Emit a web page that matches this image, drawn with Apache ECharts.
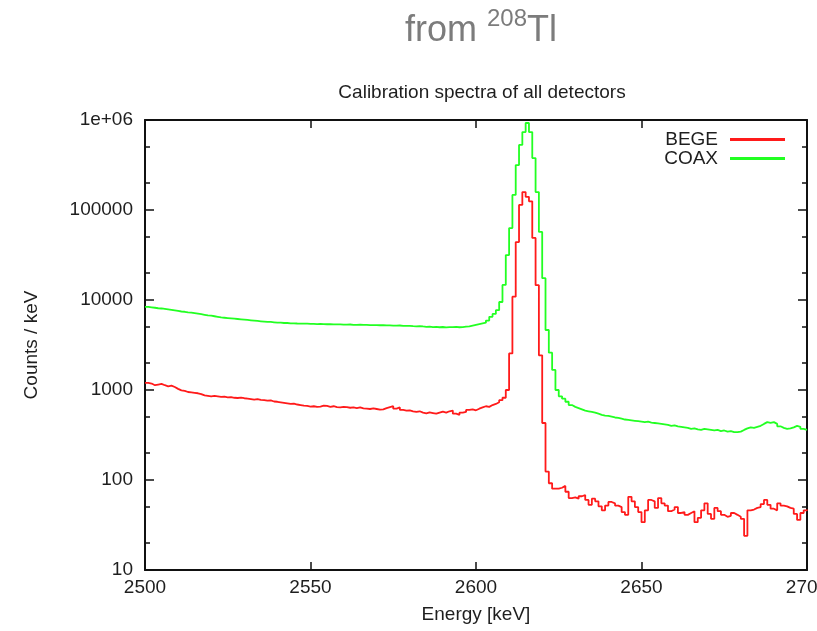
<!DOCTYPE html>
<html>
<head>
<meta charset="utf-8">
<script src="https://cdn.jsdelivr.net/npm/echarts@6/dist/echarts.min.js"></script>
<style>
html,body{margin:0;padding:0;background:#fff;}
#chart{width:817px;height:631px;}
</style>
</head>
<body>
<div id="chart"></div>
<script>
// Spectrum binning (keV)
const E0 = 2500;
const BIN = 1;

// BEGE counts / keV, bins 2500..2700
const begeCounts = [
  1200,1180,1130,1150,1170,1130,1100,1120,1080,1030,
  990,980,950,940,930,920,900,870,860,850,
  860,850,840,845,830,835,820,815,825,810,
  800,790,780,790,775,770,760,765,745,740,
  730,720,710,700,705,690,680,670,665,655,
  660,650,655,670,665,650,660,645,640,650,
  645,635,640,630,640,625,620,615,625,615,
  605,610,630,645,660,620,640,600,590,595,
  580,570,580,560,550,565,555,545,560,575,
  560,580,590,545,530,560,570,600,610,595,
  620,640,660,650,680,700,730,770,820,1000,
  2550,10900,44000,114000,158000,140000,125000,49000,14600,2430,
  430,124,92,80,80,82,86,74,63,64,
  62,66,68,60,53,62,58,51,46,52,
  57,55,52,50,44,41,65,58,50,44,
  34,46,60,58,49,63,55,52,45,47,
  50,43,44,41,43,45,34,38,46,55,
  42,37,49,45,41,39,40,43,41,39,
  37,24,46,47,49,50,54,60,53,48,
  46,55,52,51,49,48,42,36,43,46,
  47
];

// COAX counts / keV, bins 2500..2700
const coaxCounts = [
  8400,8300,8200,8100,8050,7950,7850,7750,7650,7550,
  7450,7400,7300,7250,7150,7050,6950,6850,6750,6700,
  6600,6500,6400,6350,6300,6250,6200,6150,6100,6050,
  6000,5950,5900,5850,5800,5750,5700,5700,5650,5600,
  5600,5550,5550,5500,5500,5480,5470,5450,5460,5430,
  5420,5400,5420,5390,5380,5400,5370,5350,5360,5330,
  5320,5340,5300,5290,5310,5280,5300,5260,5270,5250,
  5240,5260,5220,5230,5200,5180,5210,5170,5150,5160,
  5120,5100,5130,5080,5040,5060,5000,5020,4980,5010,
  4970,5000,4990,5020,4980,5000,5050,5100,5200,5300,
  5400,5500,5600,5900,6500,7000,7700,9500,14700,31600,
  63000,147000,316000,528000,735000,926000,735000,378000,158000,57000,
  17500,4640,2600,1670,1000,850,800,740,680,650,
  630,610,590,580,570,560,545,530,520,515,
  505,495,490,480,470,465,460,455,450,445,
  440,445,435,430,425,420,415,410,400,405,
  395,390,385,380,370,375,365,360,370,365,
  360,355,360,350,355,345,350,340,340,345,
  360,375,385,380,390,400,420,440,430,440,
  420,395,380,370,375,385,400,390,370,360,
  360
];

const seriesNames = ['BEGE', 'COAX'];
const xTicks = [2500, 2550, 2600, 2650, 2700];
const yMajor = [10, 100, 1000, 10000, 100000, 1000000];
const yMinor = [20, 50, 200, 500, 2000, 5000, 20000, 50000, 200000, 500000];

const toPairs = arr => arr.map((v, i) => [E0 + i * BIN, v]);

const FONT = 'Liberation Sans';
const FS = 19;
const TXT = '#1e1e1e';
const LINE = '#111';

function yAxisDef(pos, major, labels) {
  return {
    type: 'log', logBase: 10, min: 10, max: 1000000, position: pos,
    axisLine: { show: major, lineStyle: { color: LINE, width: 2 } },
    axisTick: { show: true, inside: true, length: major ? 9 : 5,
      customValues: major ? yMajor : yMinor, lineStyle: { color: LINE, width: 1.5 } },
    axisLabel: labels ? {
      show: true, customValues: yMajor, fontFamily: FONT, fontSize: FS, color: TXT, margin: 12,
      formatter: v => { const r = Math.round(v); return r >= 1000000 ? '1e+06' : String(r); }
    } : { show: false },
    splitLine: { show: false }, minorTick: { show: false }
  };
}

const chart = echarts.init(document.getElementById('chart'), null, { renderer: 'canvas' });
chart.setOption({
  animation: false,
  backgroundColor: '#fff',
  title: [
    {
      text: '{a|from }{s|208}{a|Tl}',
      left: 400, top: 2,
      textStyle: {
        fontWeight: 'normal',
        rich: {
          a: { fontFamily: FONT, fontSize: 36, fontWeight: 'normal', color: '#7c7c7c', lineHeight: 42, verticalAlign: 'bottom' },
          s: { fontFamily: FONT, fontSize: 24, fontWeight: 'normal', color: '#7c7c7c', lineHeight: 26, verticalAlign: 'top' }
        }
      }
    },
    {
      text: 'Calibration spectra of all detectors',
      left: 477, top: 78, textAlign: 'center',
      textStyle: { fontFamily: FONT, fontSize: FS, fontWeight: 'normal', color: TXT }
    }
  ],
  legend: {
    orient: 'vertical', right: 27, top: 125, align: 'right',
    itemWidth: 55, itemHeight: 3, itemGap: 0, icon: 'rect',
    data: seriesNames,
    textStyle: { fontFamily: FONT, fontSize: FS, color: TXT, lineHeight: 19, padding: [0, 7, 0, 0] }
  },
  grid: { left: 145, right: 10, top: 120, bottom: 61, containLabel: false, outerBoundsMode: 'none' },
  xAxis: [
    {
      type: 'value', min: xTicks[0], max: xTicks[xTicks.length - 1], interval: 50, position: 'bottom',
      name: 'Energy [keV]', nameLocation: 'middle', nameGap: 35,
      nameTextStyle: { fontFamily: FONT, fontSize: FS, color: TXT },
      axisLine: { show: true, lineStyle: { color: LINE, width: 2 } },
      axisTick: { show: true, inside: true, length: 8, lineStyle: { color: LINE, width: 1.5 } },
      axisLabel: { fontFamily: FONT, fontSize: FS, color: TXT, margin: 8, hideOverlap: false,
        formatter: v => String(Math.round(v)) },
      splitLine: { show: false }
    },
    {
      type: 'value', min: xTicks[0], max: xTicks[xTicks.length - 1], interval: 50, position: 'top',
      axisLine: { show: true, lineStyle: { color: LINE, width: 2 } },
      axisTick: { show: true, inside: true, length: 8, lineStyle: { color: LINE, width: 1.5 } },
      axisLabel: { show: false },
      splitLine: { show: false }
    }
  ],
  yAxis: [
    Object.assign(yAxisDef('left', true, true), {
      name: 'Counts / keV', nameLocation: 'middle', nameGap: 104,
      nameTextStyle: { fontFamily: FONT, fontSize: FS, color: TXT }
    }),
    yAxisDef('left', false, false),
    yAxisDef('right', true, false),
    yAxisDef('right', false, false)
  ],
  series: [
    {
      name: seriesNames[0], type: 'line', step: 'end', showSymbol: false, symbol: 'none',
      xAxisIndex: 0, yAxisIndex: 0,
      lineStyle: { color: '#ff1a1a', width: 1.8 }, itemStyle: { color: '#ff1a1a' },
      data: toPairs(begeCounts)
    },
    {
      name: seriesNames[1], type: 'line', step: 'end', showSymbol: false, symbol: 'none',
      xAxisIndex: 0, yAxisIndex: 0,
      lineStyle: { color: '#22ff22', width: 1.8 }, itemStyle: { color: '#22ff22' },
      data: toPairs(coaxCounts)
    }
  ]
});
</script>
</body>
</html>
